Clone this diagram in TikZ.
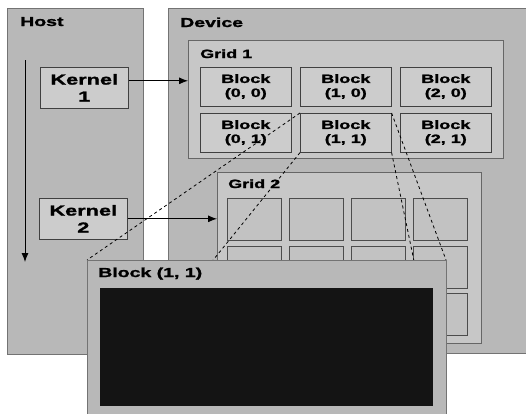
\documentclass[tikz,border=0pt]{standalone}
\usepackage{fontspec}
\usepackage{tikz}
\usetikzlibrary{arrows,arrows.meta,shapes,positioning}
\newfontfamily\lbl[FakeStretch=1.5, BoldFeatures={FakeBold=1.6}]{Liberation Sans}
\newcommand{\gunit}{1pt}
\newcommand{\lines}{0.6pt}

\begin{document}
\begin{tikzpicture}[x=\gunit, y=-\gunit,
    panel/.style={draw=black!55, fill=black!28, line width=\lines, inner sep=0, anchor=north west},
    area/.style={draw=black!60, fill=black!22, line width=\lines, inner sep=0, anchor=north west},
    blk/.style={draw=black!75, fill=black!20, line width=\lines, inner sep=0, anchor=north west,
        align=center, minimum width=91pt, minimum height=39pt, font=\lbl\bfseries\fontsize{12}{14}\selectfont},
    kern/.style={blk, minimum width=88pt, minimum height=41pt, font=\lbl\bfseries\fontsize{14.5}{17}\selectfont},
    cell/.style={draw=black!70, fill=black!24, line width=\lines, inner sep=0, anchor=north west,
        minimum width=54pt, minimum height=42pt},
    ttl/.style={anchor=base west, inner sep=0, font=\lbl\bfseries\fontsize{13}{13}\selectfont},
    link/.style={line width=0.9pt, -{Latex[length=9pt,width=7pt]}},
    zoomln/.style={dashed, line width=0.8pt}]
        %\draw[help lines] (0,0) grid[step=50] (526,413);
        \useasboundingbox (0,0) rectangle (526,413);
        \node[panel, minimum width=136pt, minimum height=346pt] (host) at (7,8) {};
        \node[panel, minimum width=362pt, minimum height=345pt] (dev) at (168,8) {};
        \node[ttl] (hostt) at (20,26) {Host};
        \node[ttl] (devt) at (180,27) {Device};
        
        \node[kern] (k1) at (40,67) {Kernel\\1};
        \node[kern] (k2) at (39,198) {Kernel\\2};
        \coordinate (t0) at (25,60);
        \coordinate (t1) at (25,262);
        \draw[link] (t0) -- (t1);
        
        % grid 1
        \node[area, minimum width=315pt, minimum height=118pt] (g1) at (188,40) {};
        \node[ttl, font=\lbl\bfseries\fontsize{12}{12}\selectfont] (g1t) at (200,58) {Grid 1};
        \foreach \i in {0,1,2}
            \foreach \j in {0,1}
                \node[blk] (b\i\j) at (200+100*\i, 67+46*\j) {Block\\(\i, \j)};
        
        % grid 2
        \node[area, minimum width=264pt, minimum height=171pt] (g2) at (217,172) {};
        \node[ttl, font=\lbl\bfseries\fontsize{12}{12}\selectfont] (g2t) at (228,188) {Grid 2};
        \foreach \i in {0,...,3}
            \foreach \j in {0,1,2}
                \node[cell] (c\i\j) at (227+62*\i, 198+47.5*\j) {};
        
        \draw[link] ([yshift=7pt]k1.east) -- ([yshift=7pt]k1.east -| g1.west);
        \draw[link] (k2.east) -- (k2.east -| g2.west);
        
        % block (1,1) enlarged
        \coordinate (pnw) at (87,260);
        \coordinate (pne) at (446,260);
        \coordinate (psw) at (87,416);
        \coordinate (pse) at (446,416);
        \draw[zoomln] (b11.north west) -- (pnw);
        \draw[zoomln] (b11.south west) -- (psw);
        \draw[zoomln] (b11.north east) -- (pne);
        \draw[zoomln] (b11.south east) -- (pse);
        \node[panel, minimum width=359pt, minimum height=156pt] (bp) at (pnw) {};
        \node[ttl] (bpt) at (98,277) {Block (1, 1)};
        \node[fill=black!92, inner sep=0, anchor=north west, minimum width=333pt, minimum height=118pt] (thr) at (100,288) {};
        
        
    \end{tikzpicture}
\end{document}
